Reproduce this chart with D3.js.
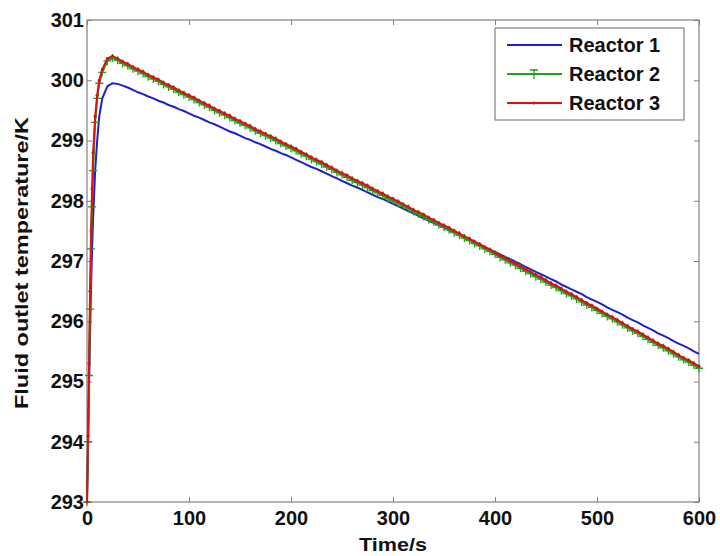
<!DOCTYPE html>
<html><head><meta charset="utf-8">
<script src="https://cdn.jsdelivr.net/npm/d3@7"></script>
<style>body{margin:0;background:#fff}svg{display:block}text{font-family:"Liberation Sans",Arial,sans-serif;font-weight:bold;fill:#111}</style>
</head><body><div id="chart"></div>
<script>
const seriesNames = ["Reactor 1", "Reactor 2", "Reactor 3"];
const xTicks = [0, 100, 200, 300, 400, 500, 600];
const yTicks = [293, 294, 295, 296, 297, 298, 299, 300, 301];
const riseTimes = [0, 1, 2, 3, 4, 5, 6, 8, 10, 12, 15, 20, 25];
const declineTimes = [30,35,40,45,50,55,60,65,70,75,80,85,90,95,100,105,110,115,120,125,130,135,140,145,150,155,160,165,170,175,180,185,190,195,200,205,210,215,220,225,230,235,240,245,250,255,260,265,270,275,280,285,290,295,300,305,310,315,320,325,330,335,340,345,350,355,360,365,370,375,380,385,390,395,400,405,410,415,420,425,430,435,440,445,450,455,460,465,470,475,480,485,490,495,500,505,510,515,520,525,530,535,540,545,550,555,560,565,570,575,580,585,590,595,600];
const reactor1 = [293.0,293.9,294.9,295.8,296.6,297.2,297.7,298.5,299.0,299.4,299.7,299.9,299.95,
299.94,299.91,299.88,299.84,299.80,299.77,299.73,299.70,299.66,299.63,299.59,299.56,299.52,299.49,299.45,
299.41,299.38,299.34,299.30,299.27,299.23,299.19,299.15,299.12,299.08,
299.04,299.01,298.97,298.94,298.90,298.86,298.83,298.79,298.76,298.72,
298.68,298.64,298.60,298.56,298.53,298.49,298.45,298.41,298.37,298.33,
298.29,298.25,298.22,298.18,298.14,298.10,298.06,298.03,297.99,297.95,
297.91,297.87,297.83,297.79,297.75,297.71,297.67,297.63,297.59,297.55,
297.51,297.47,297.43,297.39,297.35,297.31,297.27,297.23,297.19,297.15,
297.11,297.07,297.03,296.99,296.95,296.90,296.86,296.82,296.78,296.74,
296.70,296.66,296.61,296.57,296.53,296.49,296.45,296.40,296.36,296.32,
296.28,296.23,296.19,296.15,296.11,296.06,296.02,295.98,295.93,295.89,
295.85,295.80,295.76,295.72,295.67,295.63,295.59,295.55,295.50,295.46];
const reactor2 = [293.0,294.0,295.1,296.2,297.2,297.9,298.5,299.3,299.7,299.95,300.13,300.32,300.37,
300.33,300.28,300.24,300.19,300.15,300.11,300.06,300.02,299.98,299.93,
299.89,299.85,299.80,299.76,299.72,299.68,299.63,299.59,299.55,299.50,
299.46,299.42,299.38,299.33,299.29,299.25,299.21,299.16,299.12,299.08,
299.04,299.00,298.95,298.91,298.87,298.83,298.78,298.74,298.69,298.65,
298.61,298.56,298.52,298.47,298.43,298.39,298.34,298.30,298.26,298.22,
298.17,298.13,298.09,298.04,298.00,297.96,297.91,297.87,297.82,297.78,
297.74,297.69,297.65,297.60,297.56,297.52,297.47,297.43,297.38,297.34,
297.29,297.25,297.20,297.16,297.11,297.06,297.02,296.97,296.93,296.88,
296.83,296.79,296.74,296.70,296.65,296.60,296.56,296.51,296.46,296.42,
296.37,296.32,296.27,296.23,296.18,296.13,296.08,296.04,295.99,295.94,
295.89,295.84,295.80,295.75,295.70,295.65,295.60,295.56,295.51,295.46,
295.41,295.36,295.32,295.27,295.22];
const reactor3 = [293.0,294.1,295.3,296.5,297.5,298.2,298.8,299.4,299.75,300.0,300.18,300.36,300.40,
300.36,300.31,300.27,300.22,300.18,300.14,300.09,300.05,300.01,299.96,
299.92,299.88,299.83,299.79,299.75,299.71,299.66,299.62,299.58,299.53,
299.49,299.45,299.41,299.36,299.32,299.28,299.24,299.19,299.15,299.11,
299.07,299.03,298.98,298.94,298.90,298.86,298.81,298.77,298.72,298.68,
298.64,298.59,298.55,298.50,298.46,298.42,298.37,298.33,298.29,298.25,
298.20,298.16,298.12,298.07,298.03,297.99,297.94,297.90,297.85,297.81,
297.77,297.72,297.68,297.63,297.59,297.55,297.50,297.46,297.41,297.37,
297.32,297.28,297.23,297.19,297.14,297.09,297.05,297.00,296.96,296.91,
296.86,296.82,296.77,296.73,296.68,296.63,296.59,296.54,296.49,296.45,
296.40,296.35,296.30,296.26,296.21,296.16,296.11,296.07,296.02,295.97,
295.92,295.87,295.83,295.78,295.73,295.68,295.63,295.59,295.54,295.49,
295.44,295.39,295.35,295.30,295.25];
const colors = ["#1f1fd0", "#1fa01f", "#e01010"];

const W = 720, H = 556;
const m = {l: 87, r: 21, t: 20, b: 54};
const svg = d3.select("#chart").append("svg").attr("width", W).attr("height", H);
const times = riseTimes.concat(declineTimes);
const x = d3.scaleLinear().domain([0, 600]).range([m.l, W - m.r]);
const y = d3.scaleLinear().domain([293, 301]).range([H - m.b, m.t]);

const g = svg.append("g");
const axisColor = "#808080";
g.append("rect").attr("x", x(0)).attr("y", y(301)).attr("width", x(600) - x(0)).attr("height", y(293) - y(301))
  .attr("fill", "none").attr("stroke", axisColor).attr("stroke-width", 1.2);

const xAxis = d3.axisBottom(x).tickValues(xTicks).tickSize(-5).tickPadding(9).tickFormat(d3.format("d"));
const yAxis = d3.axisLeft(y).tickValues(yTicks).tickSize(-5).tickPadding(3).tickFormat(d3.format("d"));
const xTop = d3.axisTop(x).tickValues(xTicks).tickSize(-5).tickFormat("");
const yRight = d3.axisRight(y).tickValues(yTicks).tickSize(-5).tickFormat("");
function styleAxis(sel) {
  sel.select(".domain").remove();
  sel.selectAll(".tick line").attr("stroke", axisColor);
  sel.selectAll(".tick text").style("font-size", "20px").attr("fill", "#111");
}
g.append("g").attr("transform", `translate(0,${y(293)})`).call(xAxis).call(styleAxis);
g.append("g").attr("transform", `translate(${x(0)},0)`).call(yAxis).call(styleAxis);
g.append("g").attr("transform", `translate(0,${y(301)})`).call(xTop).call(styleAxis);
g.append("g").attr("transform", `translate(${x(600)},0)`).call(yRight).call(styleAxis);

const allSeries = [reactor1, reactor2, reactor3].map((vals, i) => ({
  name: seriesNames[i], color: colors[i],
  pts: times.map((t, k) => ({t, v: vals[k]})).filter(p => p.v !== undefined)
}));
const line = d3.line().x(p => x(p.t)).y(p => y(p.v));

g.append("path").datum(allSeries[0].pts).attr("d", line).attr("fill", "none")
  .attr("stroke", colors[0]).attr("stroke-width", 2);
g.append("path").datum(allSeries[1].pts).attr("d", line).attr("fill", "none")
  .attr("stroke", colors[1]).attr("stroke-width", 2);
g.append("g").selectAll("path").data(allSeries[1].pts).join("path")
  .attr("d", p => `M${x(p.t)-4},${y(p.v)}h8M${x(p.t)},${y(p.v)-4}v8`)
  .attr("stroke", colors[1]).attr("stroke-width", 1.3);
g.append("path").datum(allSeries[2].pts).attr("d", line).attr("fill", "none")
  .attr("stroke", colors[2]).attr("stroke-width", 2);
g.append("g").selectAll("circle").data(allSeries[2].pts).join("circle")
  .attr("cx", p => x(p.t)).attr("cy", p => y(p.v)).attr("r", 1.6).attr("fill", colors[2]);

svg.append("text").attr("x", (x(0) + x(600)) / 2).attr("y", 551).attr("text-anchor", "middle")
  .style("font-size", "19px").attr("textLength", 68).attr("lengthAdjust", "spacingAndGlyphs").text("Time/s");
svg.append("text").attr("transform", `translate(28,263) rotate(-90)`)
  .attr("text-anchor", "middle").style("font-size", "19px")
  .attr("textLength", 292).attr("lengthAdjust", "spacingAndGlyphs").text("Fluid outlet temperature/K");

const lg = svg.append("g").attr("transform", "translate(495,28)");
lg.append("rect").attr("width", 189).attr("height", 92).attr("fill", "#fff").attr("stroke", axisColor).attr("stroke-width", 1.2);
allSeries.forEach((s, i) => {
  const yy = 17 + i * 29;
  lg.append("line").attr("x1", 12).attr("x2", 67).attr("y1", yy).attr("y2", yy).attr("stroke", s.color).attr("stroke-width", 2);
  if (i === 1) lg.append("path").attr("d", `M35,${yy-4}h8M39,${yy-5}v10`).attr("stroke", s.color).attr("stroke-width", 1.3);
  if (i === 2) lg.append("circle").attr("cx", 39).attr("cy", yy).attr("r", 1.6).attr("fill", s.color);
  lg.append("text").attr("x", 74).attr("y", yy + 7).style("font-size", "20px").text(s.name);
});
</script></body></html>
